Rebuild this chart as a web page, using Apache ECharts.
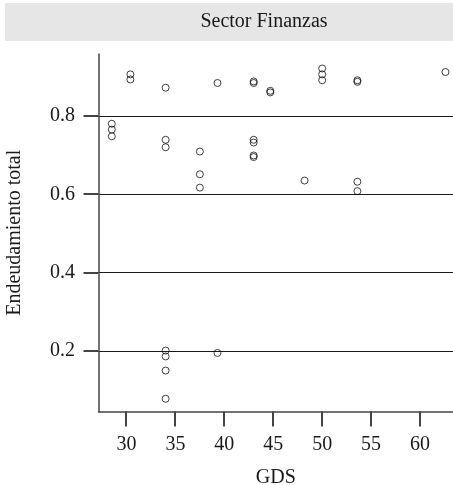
<!DOCTYPE html>
<html>
<head>
<meta charset="utf-8">
<script src="https://cdn.jsdelivr.net/npm/echarts@6/dist/echarts.min.js"></script>
<style>
  html, body { margin: 0; padding: 0; background: #fff; }
  #chart { width: 453px; height: 485px; }
</style>
</head>
<body>
<div id="chart"></div>
<script>
// GDS score of each firm in the finance sector
const gds = [
  30.4, 30.4, 34.0, 39.3, 43.0, 43.0, 44.7, 44.7,
  28.5, 28.5, 28.5, 34.0, 34.0, 37.5, 37.5, 37.5,
  43.0, 43.0, 43.0, 43.0, 50.0, 50.0, 50.0, 53.6,
  53.6, 62.6, 48.2, 53.6, 53.6, 34.0, 34.0, 34.0,
  34.0, 39.3
];
// Total leverage (endeudamiento total) of each firm
const endeudamiento = [
  0.906, 0.893, 0.872, 0.884, 0.888, 0.884, 0.864, 0.860,
  0.780, 0.765, 0.748, 0.739, 0.720, 0.709, 0.651, 0.617,
  0.739, 0.732, 0.699, 0.695, 0.921, 0.906, 0.891, 0.891,
  0.887, 0.912, 0.635, 0.632, 0.608, 0.201, 0.186, 0.150,
  0.078, 0.195
];
const xTicks = [30, 35, 40, 45, 50, 55, 60];
const yTicks = [0.2, 0.4, 0.6, 0.8];
const panelTitle = 'Sector Finanzas';

// panel extent in data units
const xRange = [27.14, 63.37];
const yRange = [0.0455, 0.958];

const points = gds.map((g, i) => [g, endeudamiento[i]]);
const serif = '"Liberation Serif", "DejaVu Serif", serif';
const axisGrey = '#444444';
const TICK_LEN = 15;

// outward tick marks, placed through the axis scales and snapped to the pixel grid
function tickSeries(values, horizontal) {
  return {
    type: 'custom',
    silent: true,
    clip: false,
    data: values.map(v => horizontal ? [v, yRange[0]] : [xRange[0], v]),
    renderItem: function (params, api) {
      const p = api.coord([api.value(0), api.value(1)]);
      let shape;
      if (horizontal) {
        const x = Math.round(p[0]);
        shape = { x1: x, y1: p[1], x2: x, y2: p[1] + TICK_LEN };
      } else {
        const y = Math.round(p[1]);
        shape = { x1: p[0], y1: y, x2: p[0] - TICK_LEN, y2: y };
      }
      return { type: 'line', shape: shape, style: { stroke: axisGrey, lineWidth: 2 } };
    },
    z: 3
  };
}

const chart = echarts.init(document.getElementById('chart'), null, { renderer: 'canvas' });
chart.setOption({
  animation: false,
  backgroundColor: '#ffffff',
  graphic: [
    {
      type: 'rect',
      left: 5, top: 3,
      shape: { width: 448, height: 38 },
      style: { fill: '#e6e6e6' },
      silent: true
    },
    {
      type: 'text',
      x: 264, y: 22,
      style: {
        text: panelTitle,
        fill: '#1a1a1a',
        font: '20px ' + serif,
        align: 'center',
        verticalAlign: 'middle'
      },
      silent: true
    }
  ],
  grid: { left: 98.5, right: 0, top: 54, bottom: 73.5, containLabel: false, outerBoundsMode: 'none' },
  xAxis: {
    type: 'value',
    min: xRange[0],
    max: xRange[1],
    name: 'GDS',
    nameLocation: 'middle',
    nameGap: 56,
    nameTextStyle: { fontFamily: serif, fontSize: 20, color: '#1a1a1a' },
    axisLine: { show: true, onZero: false, lineStyle: { color: axisGrey, width: 1.5 } },
    axisTick: { show: false, customValues: xTicks },
    axisLabel: { customValues: xTicks, margin: 23, fontFamily: serif, fontSize: 20, color: '#1a1a1a' },
    splitLine: { show: false }
  },
  yAxis: {
    type: 'value',
    min: yRange[0],
    max: yRange[1],
    name: 'Endeudamiento total',
    nameLocation: 'middle',
    nameGap: 73.5,
    nameTextStyle: { fontFamily: serif, fontSize: 20, color: '#1a1a1a' },
    axisLine: { show: true, onZero: false, lineStyle: { color: axisGrey, width: 1.5 } },
    axisTick: { show: false, customValues: yTicks },
    axisLabel: { customValues: yTicks, margin: 23.5, fontFamily: serif, fontSize: 20, color: '#1a1a1a' },
    splitLine: { show: true, lineStyle: { color: '#1a1a1a', width: 1.2 } }
  },
  series: [
    {
      type: 'scatter',
      data: points,
      symbol: 'circle',
      symbolSize: 7,
      itemStyle: { color: 'rgba(255,255,255,0)', borderColor: '#111', borderWidth: 1 },
      emphasis: { disabled: true },
      z: 4
    },
    tickSeries(xTicks, true),
    tickSeries(yTicks, false)
  ]
});
</script>
</body>
</html>
